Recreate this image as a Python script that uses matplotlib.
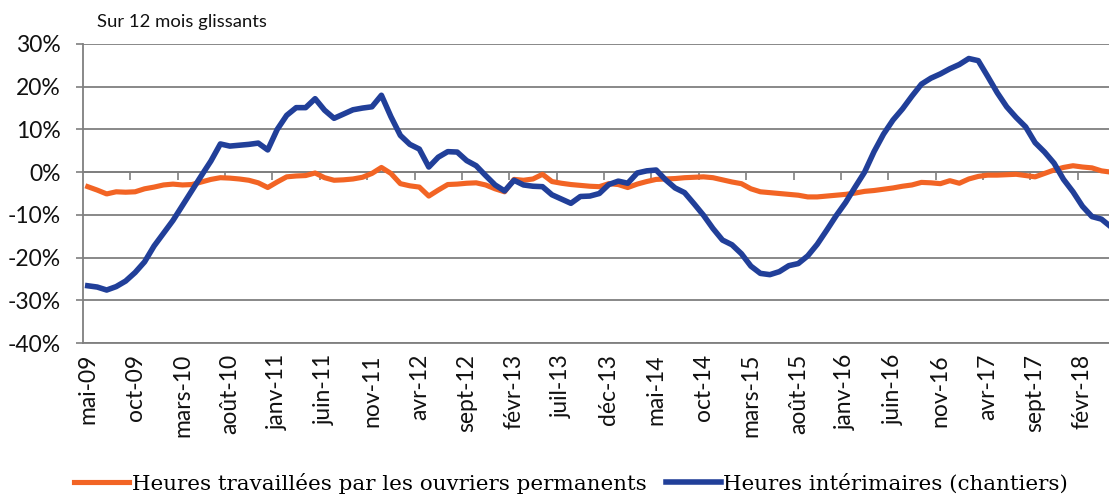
import matplotlib
matplotlib.use("Agg")
import matplotlib.pyplot as plt
from matplotlib.ticker import FixedLocator, FuncFormatter

# monthly values, mai-09 .. mai-18 (rolling 12 months, % change)
permanents = [
    -3.4, -4.2, -5.1, -4.6, -4.7, -4.6, -3.9, -3.5, -3.0, -2.8,
    -3.0, -2.9, -2.3, -1.7, -1.3, -1.4, -1.6, -1.9, -2.5, -3.6,
    -2.3, -1.1, -0.9, -0.8, -0.2, -1.3, -1.9, -1.8, -1.6, -1.2,
    -0.3, 1.1, -0.3, -2.7, -3.2, -3.5, -5.6, -4.2, -2.9, -2.8,
    -2.6, -2.5, -3.0, -3.9, -4.6, -1.7, -1.9, -1.6, -0.5, -2.2,
    -2.6, -2.9, -3.1, -3.3, -3.4, -2.7, -2.9, -3.6, -2.8, -2.2,
    -1.7, -1.6, -1.5, -1.3, -1.2, -1.1, -1.3, -1.8, -2.3, -2.7,
    -3.9, -4.6, -4.8, -5.0, -5.2, -5.4, -5.8, -5.8, -5.6, -5.4,
    -5.2, -4.9, -4.5, -4.3, -4.0, -3.7, -3.3, -3.0, -2.4, -2.5,
    -2.7, -2.0, -2.6, -1.6, -1.0, -0.7, -0.7, -0.6, -0.5, -0.8,
    -1.1, -0.3, 0.5, 1.1, 1.5, 1.2, 1.0, 0.3, 0.0,
]
interimaires = [
    -26.6, -26.9, -27.6, -26.8, -25.5, -23.5, -21.0, -17.3, -14.3, -11.3,
    -7.8, -4.3, -0.8, 2.6, 6.6, 6.1, 6.3, 6.5, 6.8, 5.2,
    10.0, 13.3, 15.1, 15.1, 17.2, 14.5, 12.6, 13.6, 14.6, 15.0,
    15.3, 18.0, 13.0, 8.6, 6.5, 5.4, 1.2, 3.5, 4.8, 4.7,
    2.7, 1.5, -0.8, -3.0, -4.4, -1.9, -3.0, -3.3, -3.4, -5.3,
    -6.3, -7.3, -5.7, -5.6, -5.0, -2.9, -2.1, -2.6, -0.2, 0.3,
    0.5, -1.8, -3.7, -4.8, -7.4, -10.1, -13.2, -15.9, -17.0, -19.1,
    -22.0, -23.7, -24.0, -23.3, -21.9, -21.4, -19.6, -16.9, -13.6, -10.2,
    -7.1, -3.5, 0.0, 4.8, 8.9, 12.2, 14.8, 17.8, 20.6, 22.0,
    23.0, 24.2, 25.2, 26.6, 26.1, 22.4, 18.6, 15.3, 12.8, 10.6,
    6.9, 4.7, 2.1, -1.7, -4.6, -8.0, -10.4, -11.0, -12.8,
]
tick_labels = [
    'mai-09', 'oct-09', 'mars-10', 'août-10', 'janv-11', 'juin-11',
    'nov-11', 'avr-12', 'sept-12', 'févr-13', 'juil-13', 'déc-13',
    'mai-14', 'oct-14', 'mars-15', 'août-15', 'janv-16', 'juin-16',
    'nov-16', 'avr-17', 'sept-17', 'févr-18',
]
y_ticks = [30, 20, 10, 0, -10, -20, -30, -40]

ORANGE = '#f26424'
BLUE = '#213f99'
GRID = '#7f7f7f'
TXT = '#111111'
SANS = 'Lato'
SERIF = 'DejaVu Serif'

x = list(range(len(permanents)))

fig = plt.figure(figsize=(11.09, 4.95), dpi=100)
ax = fig.add_axes([83 / 1109, 1 - 343 / 495, 1 - 83 / 1109, (343 - 44) / 495])

for v in y_ticks:
    ax.axhline(v, color=GRID, lw=1.3, zorder=1)

l1, = ax.plot(x, permanents, color=ORANGE, lw=3.7, solid_joinstyle='round', zorder=3,
              label='Heures travaillées par les ouvriers permanents')
l2, = ax.plot(x, interimaires, color=BLUE, lw=4.0, solid_joinstyle='round', zorder=4,
              label='Heures intérimaires (chantiers)')

ax.set_xlim(-0.5, 107.8)
ax.set_ylim(-40, 30)

# category labels every 5 months, tick marks on the 0% line between categories
ax.xaxis.set_major_locator(FixedLocator(list(range(0, 5 * len(tick_labels), 5))))
ax.xaxis.set_minor_locator(FixedLocator([i - 0.5 for i in range(5, 110, 5)]))
ax.tick_params(axis='x', which='major', length=0, pad=8, labelrotation=90,
               labelsize=16.5, labelfontfamily=SANS, labelcolor=TXT)
ax.tick_params(axis='x', which='minor', bottom=False, top=True, direction='in',
               length=6, width=1.2, color=GRID)
ax.set_xticklabels(tick_labels)

ax.set_yticks(y_ticks)
ax.yaxis.set_major_formatter(FuncFormatter(lambda v, p: f'{v:.0f}%'))
ax.tick_params(axis='y', length=5, width=1.2, color=GRID, pad=11,
               labelsize=16.5, labelfontfamily=SANS, labelcolor=TXT)

ax.spines['top'].set_position(('data', 0))
ax.spines['top'].set_color(GRID)
ax.spines['top'].set_linewidth(1.3)
ax.spines['right'].set_visible(False)
ax.spines['left'].set_color(GRID)
ax.spines['left'].set_linewidth(1.3)
ax.spines['bottom'].set_color(GRID)
ax.spines['bottom'].set_linewidth(1.3)

fig.text(97 / 1109, 1 - 22 / 495, 'Sur 12 mois glissants', fontsize=13.3, family=SANS,
         color=TXT, va='center', ha='left')

fig.legend(handles=[l1, l2], loc='center', bbox_to_anchor=(571 / 1109, 1 - 483 / 495),
           ncol=2, frameon=False, prop={'family': SERIF, 'size': 15.4},
           handlelength=2.6, handletextpad=0.1, columnspacing=0.9, borderaxespad=0)

fig.savefig('out.png', dpi=100, facecolor='white')
